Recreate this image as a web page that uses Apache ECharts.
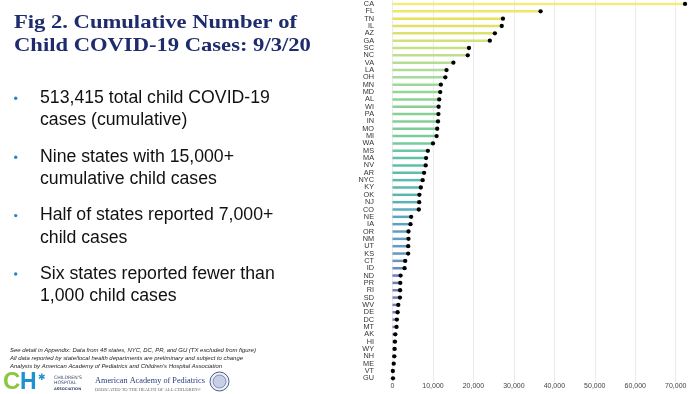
<!DOCTYPE html>
<html>
<head>
<meta charset="utf-8">
<script src="https://cdn.jsdelivr.net/npm/echarts@6/dist/echarts.min.js"></script>
<style>
html,body{margin:0;padding:0;background:#fff;}
#chart{width:700px;height:394px;}
</style>
</head>
<body>
<div id="chart"></div>
<script>
// ---- Data ----
const states = ['CA','FL','TN','IL','AZ','GA','SC','NC','VA','LA','OH','MN','MD','AL','WI','PA','IN','MO','MI','WA','MS','MA','NV','AR','NYC','KY','OK','NJ','CO','NE','IA','OR','NM','UT','KS','CT','ID','ND','PR','RI','SD','WV','DE','DC','MT','AK','HI','WY','NH','ME','VT','GU'];
const cases = [72300,36600,27300,27000,25300,24050,18900,18600,15050,13350,13050,11950,11800,11550,11400,11350,11250,11050,10900,10000,8750,8300,8200,7800,7450,7000,6650,6600,6500,4600,4450,3950,3950,3880,3870,3140,2980,2000,1920,1880,1840,1430,1270,1080,1000,690,610,530,450,300,80,120];
const xTicks = [0,10000,20000,30000,40000,50000,60000,70000];

const titleLines = ['Fig 2. Cumulative Number of', 'Child COVID-19 Cases: 9/3/20'];
const bullets = [
  ['513,415 total child COVID-19', 'cases (cumulative)'],
  ['Nine states with 15,000+', 'cumulative child cases'],
  ['Half of states reported 7,000+', 'child cases'],
  ['Six states reported fewer than', '1,000 child cases']
];
const notes = [
  'See detail in Appendix: Data from 48 states, NYC, DC, PR, and GU (TX excluded from figure)',
  'All data reported by state/local health departments are preliminary and subject to change',
  'Analysis by American Academy of Pediatrics and Children\u2019s Hospital Association'
];

// ---- Styling helpers ----
const colorStops = [
  [0,'#f3ea80'],[2,'#e8e25a'],[5,'#d3e17a'],[7,'#bfdf8c'],[10,'#a6da9e'],
  [13,'#8dd290'],[19,'#76cb9e'],[21,'#60c1a6'],[26,'#5cb6b0'],[29,'#5ca7c0'],
  [35,'#6995c0'],[37,'#6a7fbd'],[40,'#7a7cb8'],[51,'#8585b4']
];
function hex2rgb(h){return [parseInt(h.substr(1,2),16),parseInt(h.substr(3,2),16),parseInt(h.substr(5,2),16)];}
function rowColor(i){
  for(let k=0;k<colorStops.length-1;k++){
    const [i0,c0]=colorStops[k],[i1,c1]=colorStops[k+1];
    if(i>=i0&&i<=i1){
      const t=(i-i0)/(i1-i0),a=hex2rgb(c0),b=hex2rgb(c1);
      return 'rgb('+a.map((v,j)=>Math.round(v+(b[j]-v)*t)).join(',')+')';
    }
  }
  return colorStops[colorStops.length-1][1];
}
const cv=document.createElement('canvas').getContext('2d');
function textW(text, font){ cv.font = font; return cv.measureText(text).width; }
function fitSize(text, family, weight, style, targetW){
  return 100*targetW/textW(text, style+' '+weight+' 100px '+family);
}

const graphics = [];
// title: font size by cap height, stretched horizontally to the slide's width
const tFam = '"Liberation Serif", "Times New Roman", serif';
const tFont = 'bold 19px '+tFam;
const tScale = 283 / textW(titleLines[0], tFont);
[[titleLines[0],23.2],[titleLines[1],45.6]].forEach(([t,y])=>{
  graphics.push({type:'text', x:14, y:y, scaleX:tScale, style:{text:t, font:tFont, fill:'#1e2b6d', verticalAlign:'middle'}});
});
// bullets
const bY = [[98.2,120.4],[157.2,179.2],[215.6,238],[274,296.2]];
const bFam = '"Liberation Sans", Arial, sans-serif';
const bSize = fitSize(bullets[0][0], bFam, 'normal','normal', 230);
bullets.forEach((b,i)=>{
  graphics.push({type:'circle', shape:{cx:15.7, cy:bY[i][0], r:1.7}, style:{fill:'#2585c8'}});
  b.forEach((line,j)=>{
    graphics.push({type:'text', x:40, y:bY[i][j], style:{text:line, font:bSize.toFixed(2)+'px '+bFam, fill:'#111', verticalAlign:'middle'}});
  });
});
// notes
const nSize = fitSize(notes[0], bFam, 'normal','italic', 246);
[350.7,358.6,366.3].forEach((y,i)=>{
  graphics.push({type:'text', x:10, y:y, style:{text:notes[i], font:'italic '+nSize.toFixed(2)+'px '+bFam, fill:'#222', verticalAlign:'middle'}});
});
// logos
graphics.push({type:'text', x:3, y:382.5, style:{text:'C', font:'bold 24px "Liberation Sans", sans-serif', fill:'#8cc63f', verticalAlign:'middle'}});
graphics.push({type:'text', x:20, y:382.5, style:{text:'H', font:'bold 23px "Liberation Sans", sans-serif', fill:'#1a93cf', verticalAlign:'middle'}});
graphics.push({type:'text', x:38, y:378, style:{text:'\u2731', font:'bold 9px "DejaVu Sans", sans-serif', fill:'#1a93cf', verticalAlign:'middle'}});
[['CHILDREN\u2019S',377.3],['HOSPITAL',383],['ASSOCIATION',388.8]].forEach(([t,y],i)=>{
  graphics.push({type:'text', x:54, y:y, style:{text:t, font:(i==2?'bold 3.6px ':'4.6px ')+'"DejaVu Sans", sans-serif', fill:'#3a4a6a', verticalAlign:'middle'}});
});
const aapSize = fitSize('American Academy of Pediatrics', '"Liberation Serif", serif', 'normal','normal', 110);
graphics.push({type:'text', x:95, y:380.5, style:{text:'American Academy of Pediatrics', font:aapSize.toFixed(2)+'px "Liberation Serif", serif', fill:'#2a3a80', verticalAlign:'middle'}});
const dedSize = fitSize('DEDICATED TO THE HEALTH OF ALL CHILDREN\u00ae', '"Liberation Serif", serif', 'normal','normal', 106);
graphics.push({type:'text', x:95, y:390, style:{text:'DEDICATED TO THE HEALTH OF ALL CHILDREN\u00ae', font:dedSize.toFixed(2)+'px "Liberation Serif", serif', fill:'#666', verticalAlign:'middle'}});
graphics.push({type:'circle', shape:{cx:219.5, cy:381.5, r:9.5}, style:{fill:'#eef0f8', stroke:'#4a5a90', lineWidth:1}});
graphics.push({type:'circle', shape:{cx:219.5, cy:381.5, r:6.5}, style:{fill:'#c8cee6', stroke:'#4a5a90', lineWidth:0.6}});

const chart = echarts.init(document.getElementById('chart'), null, {renderer:'canvas'});
const option = {
  animation:false,
  backgroundColor:'#fff',
  grid:{left:392.5, top:0.3, bottom:12, right:-2.8, containLabel:false},
  xAxis:{
    type:'value', min:0, max:76000, interval:10000,
    axisLine:{show:false}, axisTick:{show:false},
    splitLine:{show:true, lineStyle:{color:'#ebebeb', width:1}},
    axisLabel:{show:true, margin:1, fontSize:7, color:'#444', fontFamily:'"Liberation Sans", Arial, sans-serif',
      showMaxLabel:false,
      formatter:(v)=> xTicks.indexOf(v)>=0 ? v.toLocaleString('en-US') : ''}
  },
  yAxis:{
    type:'category', inverse:true, data:states,
    axisLine:{show:false}, axisTick:{show:false}, splitLine:{show:false},
    axisLabel:{margin:18.5, fontSize:7.3, color:'#333', fontFamily:'"Liberation Sans", Arial, sans-serif', interval:0}
  },
  series:[
    {type:'bar', barWidth:2.5, silent:true,
     data:cases.map((v,i)=>({value:v, itemStyle:{color:rowColor(i)}}))},
    {type:'scatter', symbolSize:4.3, silent:true, itemStyle:{color:'#000', opacity:1}, z:5,
     data:cases}
  ],
  graphic:graphics
};
chart.setOption(option);
</script>
</body>
</html>
